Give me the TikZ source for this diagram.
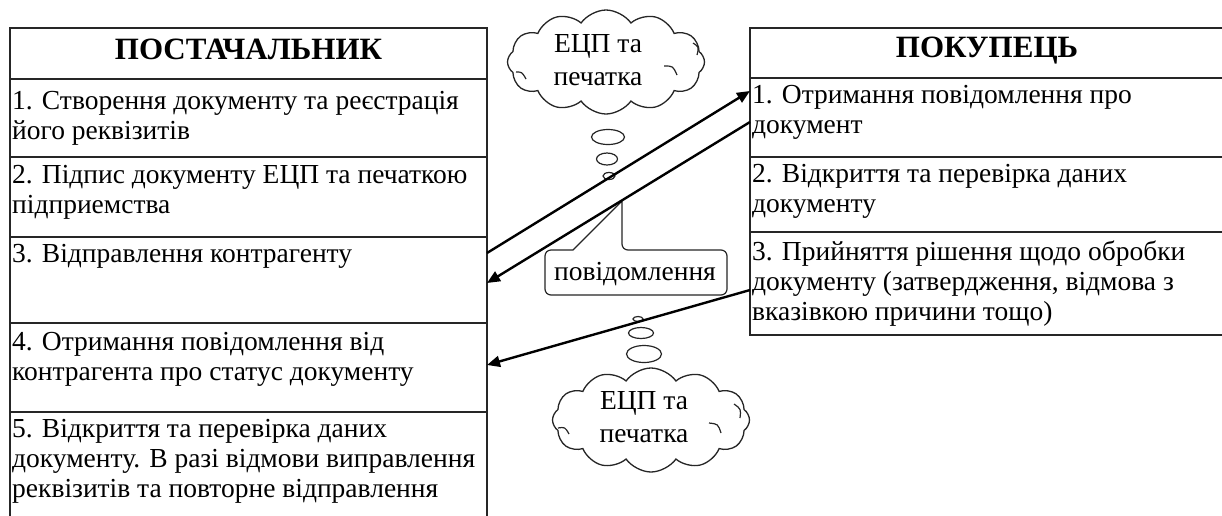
\documentclass[tikz,border=0pt]{standalone}
\usepackage{fontspec}
\setmainfont{Liberation Serif}
\usetikzlibrary{shapes.symbols,shapes.geometric,arrows.meta}

% fixed-height strut so every row's first baseline sits at the same depth
\newcommand\rowstrut{\rule{0pt}{25pt}}

\tikzset{
  cellbox/.style 2 args={draw=black!85, line width=1.8pt, rectangle,
    minimum width=#1, minimum height=#2, inner sep=0pt, outer sep=0pt,
    anchor=north west},
  rowtext/.style={font=\fontsize{27.5}{30}\selectfont, align=left,
    inner sep=0pt, anchor=north west},
  headtext/.style={font=\fontsize{31}{34}\selectfont\bfseries, inner sep=0pt},
  cloudbox/.style={cloud, draw=black!85, line width=1.3pt, cloud puffs=12,
    cloud puff arc=110, aspect=2, minimum width=197pt, minimum height=104pt,
    inner sep=0pt},
  cloudtext/.style={font=\fontsize{27.5}{33}\selectfont, align=center, inner sep=0pt},
  curl/.style={draw=black!85, line width=1.2pt},
  bubble/.style={ellipse, draw=black!85, line width=1.2pt, fill=white,
    inner sep=0pt},
  msgline/.style={line width=2.4pt, draw=black,
    -{Triangle[length=13pt,width=11pt]}},
}

\begin{document}
\begin{tikzpicture}[x=1pt,y=-1pt]
\useasboundingbox (0,0) rectangle (1222,515);
\clip (0,0) rectangle (1222,515);
\fill[white] (0,0) rectangle (1222,515);

% ---------- supplier column ----------
\node[cellbox={477pt}{51pt}]  (lh) at (10,28)  {};
\node[cellbox={477pt}{78pt}]  (l1) at (10,79)  {};
\node[cellbox={477pt}{80pt}]  (l2) at (10,157) {};
\node[cellbox={477pt}{86pt}]  (l3) at (10,237) {};
\node[cellbox={477pt}{89pt}]  (l4) at (10,323) {};
\node[cellbox={477pt}{130pt}] (l5) at (10,412) {};

\node[headtext] (lht) at ([yshift=4pt]lh.center) {ПОСТАЧАЛЬНИК};
\node[rowtext] (l1t) at ([xshift=2pt,yshift=-5pt]l1.north west)
  {\rowstrut 1. Створення документу та реєстрація\\його реквізитів};
\node[rowtext] (l2t) at ([xshift=2pt,yshift=-1pt]l2.north west)
  {\rowstrut 2. Підпис документу ЕЦП та печаткою\\підприемства};
\node[rowtext] (l3t) at ([xshift=2pt,yshift=0pt]l3.north west)
  {\rowstrut 3. Відправлення контрагенту};
\node[rowtext] (l4t) at ([xshift=2pt,yshift=-2pt]l4.north west)
  {\rowstrut 4. Отримання повідомлення від\\контрагента про статус документу};
\node[rowtext] (l5t) at ([xshift=2pt,yshift=0pt]l5.north west)
  {\rowstrut 5. Відкриття та перевірка даних\\документу. В разі відмови виправлення\\реквізитів та повторне відправлення};

% ---------- buyer column ----------
\node[cellbox={490pt}{50pt}]  (rh) at (750,28)  {};
\node[cellbox={490pt}{79pt}]  (r1) at (750,78)  {};
\node[cellbox={490pt}{75pt}]  (r2) at (750,157) {};
\node[cellbox={490pt}{103pt}] (r3) at (750,232) {};

\node[headtext] (rht) at (987,51) {ПОКУПЕЦЬ};
\node[rowtext] (r1t) at ([xshift=2pt,yshift=0pt]r1.north west)
  {\rowstrut 1. Отримання повідомлення про\\документ};
\node[rowtext] (r2t) at ([xshift=2pt,yshift=0pt]r2.north west)
  {\rowstrut 2. Відкриття та перевірка даних\\документу};
\node[rowtext] (r3t) at ([xshift=2pt,yshift=-3pt]r3.north west)
  {\rowstrut 3. Прийняття рішення щодо обробки\\документу (затвердження, відмова з\\вказівкою причини тощо)};

% ---------- signature clouds with their thought bubbles ----------
\node[cloudbox] (cloudA) at (606,62) {};
\node[cloudtext] (cloudAt) at (598,60) {ЕЦП та\\печатка};
\draw[curl] (664,66) .. controls (673,66) .. (677,75);
\draw[curl] (693,43) .. controls (699,47) .. (697,55);
\draw[curl] (516,72) .. controls (522,72) .. (526,79);
\node[bubble, minimum width=33pt, minimum height=15pt] (ba1) at (608,137) {};
\node[bubble, minimum width=21pt, minimum height=12pt] (ba2) at (607,159) {};
\node[bubble, minimum width=12pt, minimum height=7pt]  (ba3) at (609,176) {};

\node[cloudbox] (cloudB) at (651,420) {};
\node[cloudtext] (cloudBt) at (644,417) {ЕЦП та\\печатка};
\draw[curl] (709,423) .. controls (718,424) .. (721,433);
\draw[curl] (734,404) .. controls (741,409) .. (740,418);
\draw[curl] (558,428) .. controls (565,427) .. (569,434);
\node[bubble, minimum width=35pt, minimum height=17pt] (bb1) at (644,354) {};
\node[bubble, minimum width=25pt, minimum height=11pt] (bb2) at (641,333) {};
\node[bubble, minimum width=10pt, minimum height=5pt]  (bb3) at (638,319) {};

% ---------- callout for the notification ----------
\coordinate (ctip) at (622,201);
\coordinate (cbl) at (573,250);
\coordinate (cbr) at (622,250);
\draw[draw=black!85, line width=1.2pt, fill=white, rounded corners=6pt]
  (cbl) -- (545,250) -- (545,295) -- (727,295) -- (727,250) -- (cbr)
  [sharp corners] -- (ctip) -- cycle;
\node[font=\fontsize{27.5}{30}\selectfont, inner sep=0pt] (msg) at (635,274) {повідомлення};

% ---------- message flow ----------
\draw[msgline] ([yshift=-16pt]l3.north east) -- ([yshift=-13pt]r1.north west);
\draw[msgline] ([yshift=-44pt]r1.north west) -- ([yshift=-46pt]l3.north east);
\draw[msgline] ([yshift=-58pt]r3.north west) -- ([yshift=-42pt]l4.north east);
\end{tikzpicture}
\end{document}
